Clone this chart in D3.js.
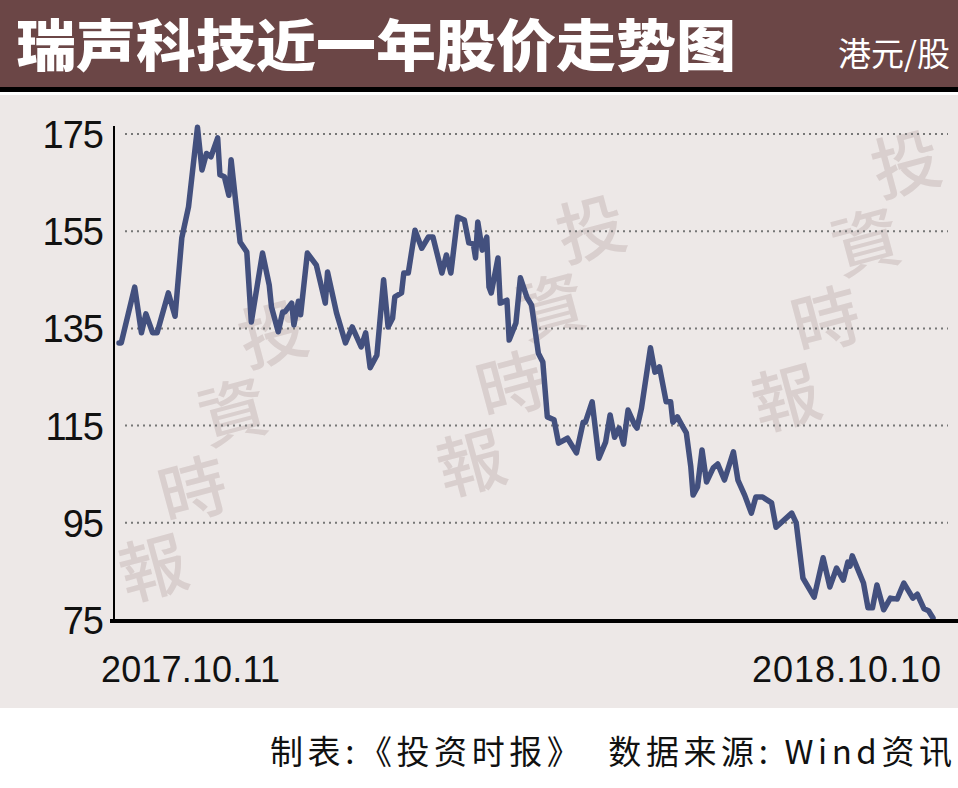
<!DOCTYPE html>
<html><head><meta charset="utf-8">
<script src="https://cdn.jsdelivr.net/npm/d3@7"></script>
<style>body{margin:0;background:#fff}svg{display:block}</style>
</head><body>
<script>
const days = [1,2,8,11,13,16,18,23,26,29,32,36,38,40,42,45,46,48,50,51,55,58,60,65,68,69,72,74,75,78,79,81,82,85,89,93,94,98,102,105,109,111,113,116,119,121,123,124,127,128,130,133,136,139,141,145,147,149,152,155,157,159,160,161,163,165,166,167,170,171,174,175,178,180,183,185,188,190,192,195,197,201,205,208,209,212,215,218,220,222,224,226,228,231,232,234,238,240,242,245,247,248,250,252,254,256,257,259,261,263,266,268,271,275,277,280,283,285,288,292,294,301,303,306,311,315,318,321,324,326,327,328,333,335,337,339,342,345,348,351,355,357,360,362,364];
const prices = [132,132,143.5,134.1,138,134.1,134.1,142.3,137.5,153.6,160,176.4,167.6,171,170.3,174.2,166.6,166.2,162.4,169.7,152.8,150.7,136.3,150.5,143.9,139.4,134.3,138.4,138.4,140.2,135.7,140.6,137.8,150.5,148,140.2,146.6,138.2,132,135.3,131.2,134.1,126.9,129.5,145,135.3,137.1,141.5,142.3,146.4,146.4,155.2,151.5,153.8,153.8,146.4,150.1,146.4,157.9,157.3,152.6,152.4,149.5,156.9,151.1,153.8,143.5,142.3,149.5,140.2,140.8,132.6,136.1,145.4,141.3,139.8,129.9,128.1,116.8,116.2,111.4,112.4,109.4,115.7,115.7,119.9,108.3,111.6,117.2,112.6,114.5,111.2,118.2,115.1,114.5,118.6,131,126,127.1,119.9,119.9,115.7,116.8,115.1,113.5,106.5,100.7,102.4,110,103.4,106.3,107.1,103.8,109.6,103.8,100.7,97,100.3,100.3,99.1,94.1,97,95,83.6,79.7,87.8,81.8,85.7,83.2,86.9,86.1,88.2,82.6,77.5,77.5,82.2,77.1,79.5,79.3,82.6,79.5,80.3,77.3,76.9,75.4];
const yTicks = [75,95,115,135,155,175];
const xLabels = ["2017.10.11","2018.10.10"];
const title = "瑞声科技近一年股价走势图";
const unit = "港元/股";
const footer = "制表:《投资时报》  数据来源: Wind资讯";
const watermark = ["投","資","時","報"];

const W=958,H=788;
const svg=d3.select("body").append("svg").attr("width",W).attr("height",H);
const font="'Noto Sans CJK SC','Liberation Sans',sans-serif";
const num="'Liberation Sans',sans-serif";
svg.append("rect").attr("width",W).attr("height",H).attr("fill","#fff");
svg.append("rect").attr("width",W).attr("height",87).attr("fill","#6b4646");
svg.append("rect").attr("y",87).attr("width",W).attr("height",5).attr("fill","#000");
svg.append("rect").attr("y",95).attr("width",W).attr("height",613).attr("fill","#ede8e7");
svg.append("text").attr("x",16).attr("y",66).attr("fill","#fff").attr("font-family",font)
  .attr("font-weight",900).attr("font-size",56).attr("textLength",720).attr("lengthAdjust","spacingAndGlyphs").text(title);
svg.append("text").attr("x",950).attr("y",66).attr("text-anchor","end").attr("fill","#fff")
  .attr("font-family",font).attr("font-size",33).text(unit);

const wmCols=[[272,330],[590,225],[905,160]];
wmCols.forEach(([x0,y0])=>{
  watermark.forEach((c,i)=>{
    const xx=x0-40*i, yy=y0+78*i;
    svg.append("text").attr("transform",`translate(${xx},${yy}) rotate(-15)`)
      .attr("text-anchor","middle").attr("dominant-baseline","central")
      .attr("font-family","'Noto Sans CJK TC',sans-serif").attr("font-weight",500)
      .attr("font-size",68).attr("fill","#d9cfce").text(c);
  });
});

const x=d3.scaleLinear().domain([1,364]).range([119,933]);
const y=d3.scaleLinear().domain([75,175]).range([620,134]);

svg.append("g").selectAll("line").data(yTicks.slice(1)).join("line")
  .attr("x1",125).attr("x2",948).attr("y1",d=>y(d)).attr("y2",d=>y(d))
  .attr("stroke","#777").attr("stroke-width",2).attr("stroke-dasharray","2,4");
svg.append("g").selectAll("text").data(yTicks).join("text")
  .attr("x",103).attr("y",d=>y(d)+14).attr("text-anchor","end")
  .attr("font-family",num).attr("font-size",38).attr("letter-spacing",-1).attr("fill","#111").text(d=>d);
svg.append("line").attr("x1",114).attr("x2",114).attr("y1",126).attr("y2",620).attr("stroke","#000").attr("stroke-width",2);

const line=d3.line().x((d,i)=>x(days[i])).y(d=>y(d));
svg.append("path").attr("d",line(prices)).attr("fill","none").attr("stroke","#43507e")
  .attr("stroke-width",5.5).attr("stroke-linejoin","round").attr("stroke-linecap","round");

svg.append("line").attr("x1",110).attr("x2",958).attr("y1",621).attr("y2",621).attr("stroke","#000").attr("stroke-width",4);

svg.append("text").attr("x",101).attr("y",682).attr("font-family",num)
  .attr("font-size",36).attr("textLength",179).attr("fill","#111").text(xLabels[0]);
svg.append("text").attr("x",752).attr("y",682).attr("font-family",num)
  .attr("font-size",36).attr("textLength",189).attr("fill","#111").text(xLabels[1]);
svg.append("text").attr("x",270).attr("y",764).attr("font-family",font)
  .attr("font-size",33).attr("textLength",682).attr("fill","#111").style("white-space","pre").text(footer);
</script>
</body></html>
